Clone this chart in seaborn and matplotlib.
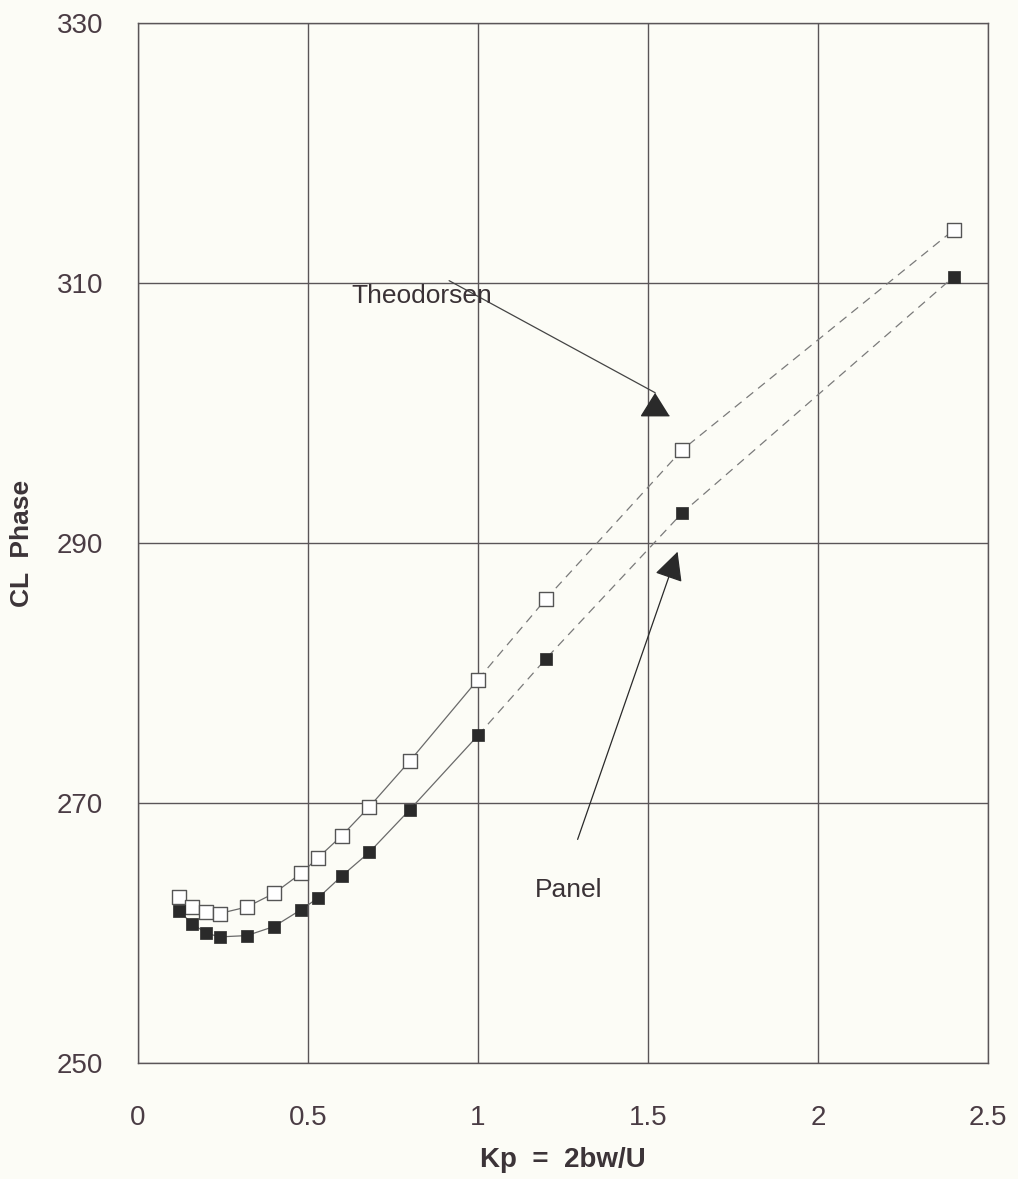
import matplotlib
matplotlib.use("Agg")
import matplotlib.pyplot as plt
import seaborn as sns
import pandas as pd
import numpy as np

# ---- data ----
kp = [0.12, 0.16, 0.20, 0.24, 0.32, 0.40, 0.48, 0.53, 0.60, 0.68, 0.80, 1.00, 1.20, 1.60, 2.40]
theodorsen = [262.75, 262.0, 261.6, 261.5, 262.0, 263.05, 264.6, 265.8, 267.5, 269.7, 273.25, 279.5, 285.7, 297.15, 314.1]
panel = [261.7, 260.7, 260.0, 259.7, 259.8, 260.5, 261.8, 262.7, 264.4, 266.2, 269.5, 275.2, 281.1, 292.3, 310.5]

x_ticks = [0, 0.5, 1, 1.5, 2, 2.5]
x_tick_labels = ["0", "0.5", "1", "1.5", "2", "2.5"]
y_ticks = [250, 270, 290, 310, 330]
y_tick_labels = ["250", "270", "290", "310", "330"]

# annotation anchors (data coords)
theo_text = (0.834, 308.44)
theo_tail = (0.915, 310.18)
theo_tip = (1.521, 301.56)
panel_text = (1.266, 262.79)
panel_tail = (1.293, 267.2)
panel_tip = (1.587, 289.33)

bg = "#fcfcf6"
grid_c = "#5a5558"
txt_c = "#4a3c44"

sns.set_theme(style="white")
plt.rcParams["font.family"] = ["Liberation Sans", "DejaVu Sans"]

fig = plt.figure(figsize=(10.18, 11.79), dpi=100, facecolor=bg)
ax = fig.add_axes([138 / 1018, 1 - 1063 / 1179, 850 / 1018, 1040 / 1179])
ax.set_facecolor(bg)

df = pd.DataFrame({"kp": kp, "Theodorsen": theodorsen, "Panel": panel})
lo = df[df["kp"] <= 1.0]
hi = df[df["kp"] >= 1.0]

for col in ["Theodorsen", "Panel"]:
    sns.lineplot(data=lo, x="kp", y=col, ax=ax, color="#6a6a6a", lw=0.9, sort=False)
    sns.lineplot(data=hi, x="kp", y=col, ax=ax, color="#7a7a7a", lw=0.9, sort=False,
                 linestyle=(0, (7, 5)))

sns.scatterplot(data=df, x="kp", y="Theodorsen", ax=ax, marker="s", s=90,
                facecolor="white", edgecolor="#555555", linewidth=1.0, zorder=5)
sns.scatterplot(data=df, x="kp", y="Panel", ax=ax, marker="s", s=80,
                color="#2a2a2a", edgecolor="#2a2a2a", linewidth=0.5, zorder=5)

ax.set_xlim(0, 2.5)
ax.set_ylim(250, 330)
ax.set_xticks(x_ticks)
ax.set_xticklabels(x_tick_labels)
ax.set_yticks(y_ticks)
ax.set_yticklabels(y_tick_labels)
ax.grid(True, color=grid_c, lw=1.0)
for s in ax.spines.values():
    s.set_visible(True)
    s.set_color(grid_c)
    s.set_linewidth(1.0)
ax.tick_params(axis="both", direction="inout", length=16, width=1.0, color=grid_c,
               labelsize=20, labelcolor=txt_c)
ax.tick_params(axis="x", pad=22)
ax.tick_params(axis="y", pad=17)

ax.set_xlabel("Kp  =  2bw/U", fontsize=20, fontweight="bold", color="#3c3438", va="center")
ax.set_ylabel("CL  Phase", fontsize=19, fontweight="bold", color="#3c3438", va="center")
ax.xaxis.set_label_coords(0.5, (1063 - 1160) / 1040)
ax.yaxis.set_label_coords((21.7 - 138) / 850, 0.5)

# annotations
ax.text(*theo_text, "Theodorsen", fontsize=19, color="#3a3236", ha="center", va="baseline", zorder=6)
ax.annotate("", xy=theo_tip, xytext=theo_tail,
            arrowprops=dict(arrowstyle="-", color="#444444", lw=0.9, shrinkA=0, shrinkB=0))
ax.plot([theo_tip[0]], [theo_tip[1]], linestyle="none", color="#2a2a2a",
        marker=[(0, 0), (-1, -1.6), (1, -1.6)], markersize=32, zorder=6)

ax.text(*panel_text, "Panel", fontsize=19, color="#3a3236", ha="center", va="baseline", zorder=6)
ax.annotate("", xy=panel_tip, xytext=panel_tail,
            arrowprops=dict(arrowstyle="-|>,head_length=0.9,head_width=0.45", mutation_scale=20,
                            color="#2a2a2a", lw=0.9, shrinkA=0, shrinkB=0))

fig.savefig("out.png", dpi=100, facecolor=bg)
